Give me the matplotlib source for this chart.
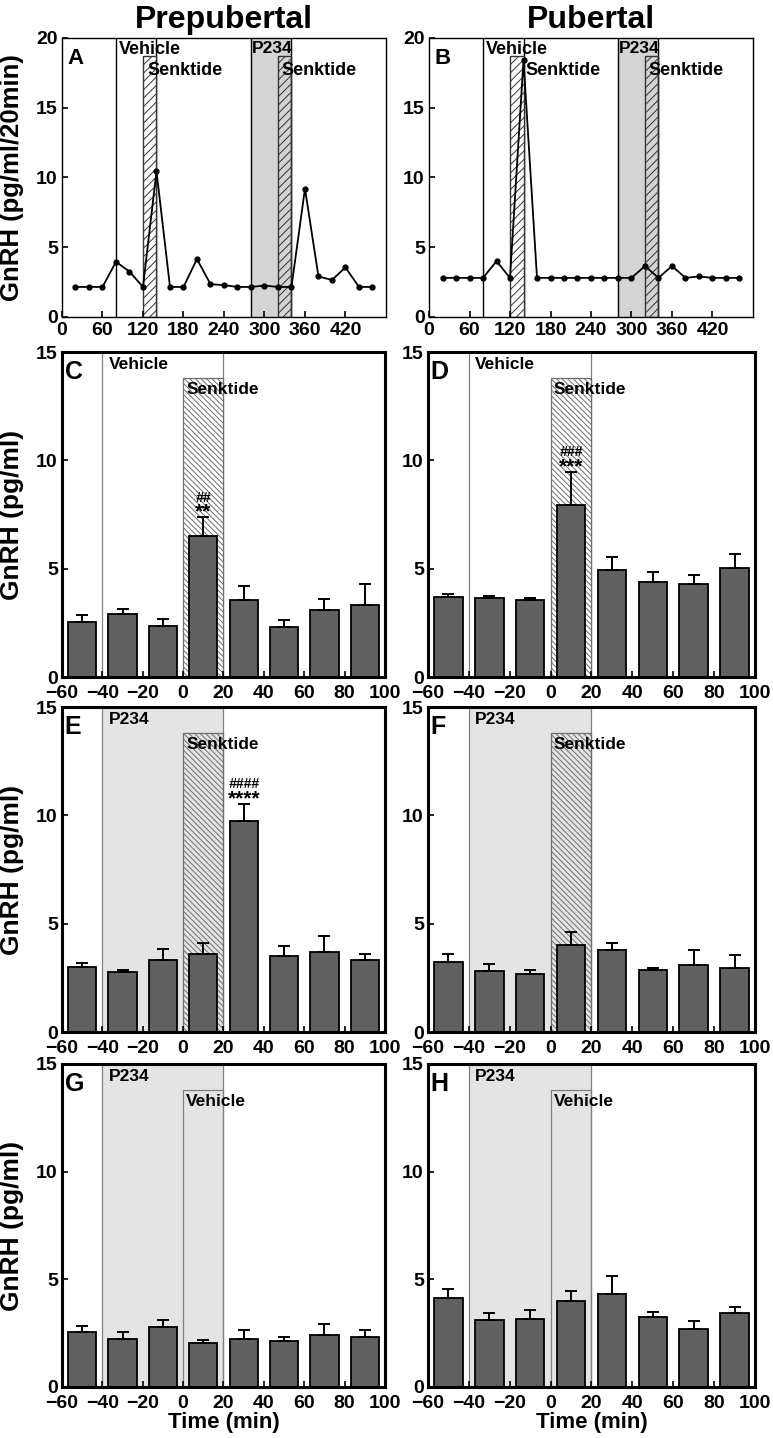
import numpy as np
import matplotlib
matplotlib.use('Agg')
import matplotlib.pyplot as plt

plt.rcParams['font.family'] = ['Liberation Sans', 'DejaVu Sans']
plt.rcParams['font.weight'] = 'bold'
plt.rcParams['axes.labelweight'] = 'bold'
plt.rcParams['hatch.linewidth'] = 0.7

# ---- top panels: individual GnRH profile every 20 min ----
sample_times = [20, 40, 60, 80, 100, 120, 140, 160, 180, 200, 220, 240,
                260, 280, 300, 320, 340, 360, 380, 400, 420, 440, 460]
prepub_profile = [2.15, 2.15, 2.15, 3.95, 3.25, 2.15, 10.45, 2.15, 2.15, 4.15, 2.35, 2.28,
                  2.15, 2.15, 2.25, 2.15, 2.15, 9.2, 2.9, 2.65, 3.55, 2.15, 2.15]
pub_profile = [2.8, 2.8, 2.8, 2.8, 4.0, 2.8, 18.4, 2.8, 2.8, 2.8, 2.8, 2.8,
               2.8, 2.8, 2.8, 3.65, 2.8, 3.65, 2.8, 2.9, 2.8, 2.8, 2.8]

# infusion periods (min) for the profile panels
VEH_START, SENK1_START, SENK1_END = 80, 120, 140
P234_START, SENK2_START, SENK2_END = 280, 320, 340

# ---- bar panels: mean GnRH in 20-min bins ----
time_bins = [-50, -30, -10, 10, 30, 50, 70, 90]
c_mean = [2.54, 2.91, 2.34, 6.52, 3.54, 2.29, 3.09, 3.31]
c_sem = [0.34, 0.24, 0.34, 0.86, 0.66, 0.34, 0.53, 1.0]
d_mean = [3.69, 3.65, 3.57, 7.92, 4.95, 4.40, 4.31, 5.03]
d_sem = [0.13, 0.07, 0.09, 1.54, 0.60, 0.43, 0.38, 0.63]
e_mean = [3.0, 2.75, 3.31, 3.62, 9.74, 3.52, 3.71, 3.34]
e_sem = [0.18, 0.11, 0.52, 0.49, 0.80, 0.43, 0.72, 0.24]
f_mean = [3.25, 2.83, 2.66, 4.0, 3.77, 2.85, 3.09, 2.94]
f_sem = [0.35, 0.31, 0.20, 0.61, 0.32, 0.12, 0.71, 0.61]
g_mean = [2.54, 2.23, 2.79, 2.03, 2.23, 2.14, 2.43, 2.32]
g_sem = [0.31, 0.34, 0.31, 0.17, 0.40, 0.20, 0.51, 0.34]
h_mean = [4.11, 3.10, 3.17, 4.0, 4.34, 3.24, 2.70, 3.44]
h_sem = [0.46, 0.34, 0.42, 0.46, 0.80, 0.23, 0.35, 0.26]

# significance marks: (bin index, hash marks, stars)
c_sig = (3, '##', '**')
d_sig = (3, '###', '***')
e_sig = (4, '####', '****')

BAR_GREY = '#606060'
LINE_GREY = '#808080'

fig = plt.figure(figsize=(7.73, 14.38), dpi=100)


def style_axes(ax, lw, tick_size):
    for s in ax.spines.values():
        s.set_linewidth(lw)
    ax.tick_params(direction='in', length=4, width=1.2, labelsize=tick_size,
                   top=False, right=False)
    ax.tick_params(axis='x', pad=6)
    ax.tick_params(axis='y', pad=3)


def profile_panel(rect, values, letter, title, ylabel, senk_x):
    ax = fig.add_axes(rect)
    ax.set_xlim(0, 480)
    ax.set_ylim(0, 20)
    # P234 period (grey), then senktide boxes (hatched)
    ax.axvspan(P234_START, SENK2_END, color='#d4d4d4', zorder=0)
    for xv in [VEH_START, SENK1_END, P234_START, SENK2_END]:
        ax.axvline(xv, color='black', lw=1.0, zorder=1)
    ax.bar(SENK1_START, 18.7, width=SENK1_END - SENK1_START, align='edge',
           facecolor='white', edgecolor='#333333', hatch='////', lw=1.0, zorder=1)
    ax.bar(SENK2_START, 18.7, width=SENK2_END - SENK2_START, align='edge',
           facecolor='none', edgecolor='#333333', hatch='////', lw=1.0, zorder=1)
    ax.plot(sample_times, values, '-o', color='black', lw=1.3, ms=3.5, zorder=3)
    ax.text(VEH_START + 4, 19.75, 'Vehicle', fontsize=13, va='top', zorder=4)
    ax.text(senk_x, 18.3, 'Senktide', fontsize=13, va='top', zorder=4)
    ax.text(P234_START + 2, 19.75, 'P234', fontsize=12.5, va='top', zorder=4)
    ax.text(SENK2_START + 5, 18.3, 'Senktide', fontsize=13, va='top', zorder=4)
    ax.text(0.018, 0.965, letter, transform=ax.transAxes, fontsize=16,
            va='top', ha='left')
    ax.set_xticks(range(0, 421, 60))
    ax.set_yticks([0, 5, 10, 15, 20])
    style_axes(ax, 1.0, 14)
    ax.tick_params(axis='x', pad=4)
    ax.set_title(title, fontsize=23, fontweight='bold', pad=7)
    if ylabel:
        ax.set_ylabel('GnRH (pg/ml/20min)', fontsize=18.5)
        ax.yaxis.set_label_coords(-0.118, 0.5)
    return ax


def bar_panel(rect, mean, sem, letter, pretreat, treat, sig=None, ylabel=True, xlabel=False):
    ax = fig.add_axes(rect)
    ax.set_xlim(-60, 100)
    ax.set_ylim(0, 15)
    if pretreat == 'P234':
        ax.axvspan(-40, 20, facecolor='#e4e4e4', edgecolor=LINE_GREY, lw=0.9, zorder=0)
    else:
        ax.axvline(-40, color=LINE_GREY, lw=0.9, zorder=0)
        ax.axvline(20, color=LINE_GREY, lw=0.9, zorder=0)
    if treat == 'Senktide':
        face = 'white' if pretreat == 'Vehicle' else 'none'
        ax.bar(0, 13.8, width=20, align='edge', facecolor=face, edgecolor='#6e6e6e',
               hatch='\\\\\\\\\\\\', lw=0.9, zorder=1)
    else:
        ax.bar(0, 13.8, width=20, align='edge', facecolor='none', edgecolor=LINE_GREY,
               lw=0.9, zorder=1)
    ax.bar(time_bins, mean, width=14, color=BAR_GREY, edgecolor='black', lw=1.3, zorder=2)
    ax.errorbar(time_bins, mean, yerr=[np.zeros(len(sem)), sem], fmt='none',
                ecolor='black', elinewidth=1.4, capsize=4, capthick=1.4, zorder=3)
    ax.text(-37, 14.75, pretreat, fontsize=12.5, va='top', zorder=4)
    ax.text(1.5, 13.6, treat, fontsize=12.5, va='top', zorder=4)
    ax.text(0.008, 0.975, letter, transform=ax.transAxes, fontsize=18,
            va='top', ha='left')
    if sig is not None:
        i, hashes, stars = sig
        top = mean[i] + sem[i]
        ax.text(time_bins[i], top - 0.02, stars, fontsize=15, ha='center',
                va='baseline', zorder=4)
        ax.text(time_bins[i], top + 0.72, hashes, fontsize=10, ha='center',
                va='baseline', fontstyle='italic', zorder=4)
    ax.set_xticks(range(-60, 101, 20))
    ax.set_yticks([0, 5, 10, 15])
    style_axes(ax, 2.2, 14)
    if ylabel:
        ax.set_ylabel('GnRH (pg/ml)', fontsize=19)
        ax.yaxis.set_label_coords(-0.118, 0.5)
    if xlabel:
        ax.set_xlabel('Time (min)', fontsize=16, labelpad=0)
    return ax


profile_panel([0.0802, 0.7796, 0.4191, 0.1940], prepub_profile, 'A', 'Prepubertal', True, 126)
profile_panel([0.5550, 0.7796, 0.4191, 0.1940], pub_profile, 'B', 'Pubertal', False, 143)

left_x, right_x, wl, wr = 0.0802, 0.5537, 0.4178, 0.4230
bar_panel([left_x, 0.5292, wl, 0.2260], c_mean, c_sem, 'C', 'Vehicle', 'Senktide', c_sig)
bar_panel([right_x, 0.5292, wr, 0.2260], d_mean, d_sem, 'D', 'Vehicle', 'Senktide', d_sig, ylabel=False)
bar_panel([left_x, 0.2823, wl, 0.2260], e_mean, e_sem, 'E', 'P234', 'Senktide', e_sig)
bar_panel([right_x, 0.2823, wr, 0.2260], f_mean, f_sem, 'F', 'P234', 'Senktide', ylabel=False)
bar_panel([left_x, 0.0355, wl, 0.2246], g_mean, g_sem, 'G', 'P234', 'Vehicle', xlabel=True)
bar_panel([right_x, 0.0355, wr, 0.2246], h_mean, h_sem, 'H', 'P234', 'Vehicle', ylabel=False, xlabel=True)

fig.savefig('out.png', dpi=100)
